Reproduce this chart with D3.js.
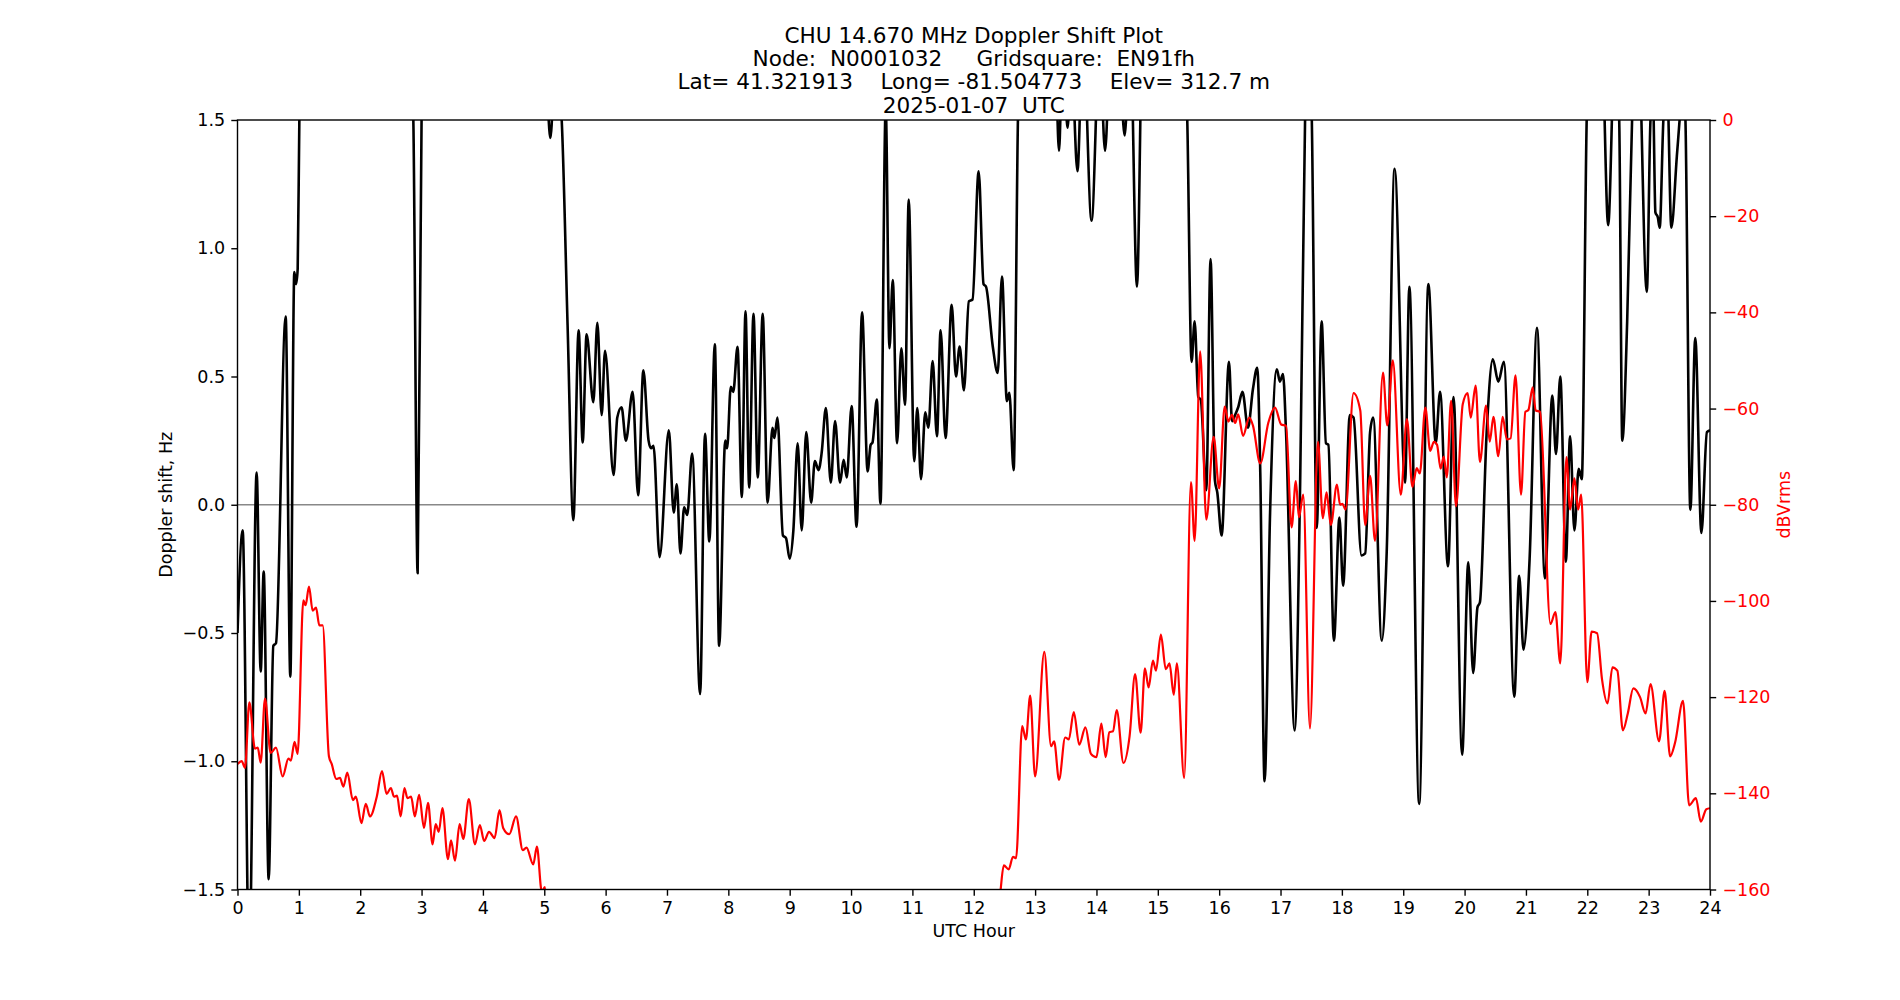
<!DOCTYPE html>
<html>
<head>
<meta charset="utf-8">
<script src="https://cdn.jsdelivr.net/npm/d3@7"></script>
<style>
body { margin: 0; background: #fff; }
text { font-family: "DejaVu Sans", sans-serif; }
</style>
</head>
<body>
<script>
var width = 1900;
var height = 1000;
var margin = {top: 120, right: 190, bottom: 110.5, left: 237.5};
var plotW = width - margin.left - margin.right;
var plotH = height - margin.top - margin.bottom;

var titleLines = [
    'CHU 14.670 MHz Doppler Shift Plot',
    'Node:  N0001032     Gridsquare:  EN91fh',
    'Lat= 41.321913    Long= -81.504773    Elev= 312.7 m',
    '2025-01-07  UTC'
];

var hourTicks = [0, 1, 2, 3, 4, 5, 6, 7, 8, 9, 10, 11, 12, 13, 14, 15, 16, 17, 18, 19, 20, 21, 22, 23, 24];
var shiftTicks = [-1.5, -1.0, -0.5, 0.0, 0.5, 1.0, 1.5];
var powerTicks = [0, -20, -40, -60, -80, -100, -120, -140, -160];

// [UTC hour, Doppler shift Hz]  (values past +-1.5 run off the plot)
var dopplerShift = [
    [0.00,-0.50],[0.084,-0.10],[0.19,-1.80],[0.312,0.126],[0.378,-0.65],[0.427,-0.26],[0.508,-1.46],
    [0.584,-0.55],[0.627,-0.54],[0.785,0.734],[0.861,-0.67],[0.926,0.907],[0.955,0.86],[0.981,0.92],
    [1.008,1.50],[1.06,1.90],[1.60,2.20],[2.30,2.20],[2.80,1.90],[2.866,1.50],[2.936,-0.267],[3.00,1.50],
    [3.06,1.90],[4.00,2.20],[5.03,1.65],[5.10,1.43],[5.18,1.75],[5.284,1.50],[5.38,0.70],[5.474,-0.06],
    [5.56,0.68],[5.626,0.243],[5.69,0.665],[5.80,0.40],[5.865,0.709],[5.936,0.35],[5.99,0.60],[6.13,0.116],
    [6.19,0.34],[6.26,0.38],[6.33,0.25],[6.44,0.44],[6.53,0.037],[6.615,0.524],[6.70,0.25],[6.74,0.22],
    [6.78,0.23],[6.88,-0.204],[7.03,0.29],[7.11,-0.03],[7.16,0.08],[7.22,-0.19],[7.28,-0.01],[7.33,-0.04],
    [7.41,0.20],[7.54,-0.738],[7.62,0.277],[7.69,-0.143],[7.78,0.626],[7.85,-0.55],[7.95,0.25],[7.98,0.22],
    [8.04,0.46],[8.08,0.44],[8.15,0.616],[8.22,0.03],[8.28,0.754],[8.34,0.067],[8.41,0.744],[8.48,0.106],
    [8.56,0.744],[8.64,0.008],[8.72,0.30],[8.75,0.26],[8.80,0.34],[8.89,-0.12],[8.94,-0.13],[9.00,-0.21],
    [9.06,-0.10],[9.13,0.24],[9.196,-0.10],[9.27,0.283],[9.35,0.008],[9.41,0.17],[9.47,0.135],[9.52,0.20],
    [9.59,0.377],[9.67,0.086],[9.74,0.326],[9.82,0.086],[9.88,0.175],[9.93,0.106],[10.01,0.385],[10.09,-0.086],
    [10.18,0.75],[10.27,0.13],[10.32,0.234],[10.35,0.243],[10.42,0.41],[10.48,0.004],[10.565,1.55],[10.626,0.61],
    [10.68,0.876],[10.75,0.24],[10.82,0.61],[10.88,0.39],[10.94,1.19],[11.03,0.17],[11.08,0.377],[11.14,0.10],
    [11.21,0.36],[11.26,0.30],[11.33,0.56],[11.40,0.267],[11.46,0.68],[11.54,0.26],[11.64,0.78],[11.71,0.50],
    [11.77,0.617],[11.84,0.446],[11.92,0.793],[11.98,0.80],[12.08,1.30],[12.16,0.86],[12.20,0.85],[12.31,0.617],
    [12.39,0.514],[12.46,0.89],[12.54,0.404],[12.58,0.436],[12.65,0.135],[12.72,1.50],[12.78,1.95],[13.20,2.10],
    [13.34,1.70],[13.39,1.38],[13.44,1.70],[13.49,1.60],[13.53,1.47],[13.59,1.75],[13.69,1.30],[13.78,1.85],
    [13.92,1.107],[14.05,1.80],[14.14,1.38],[14.23,1.80],[14.38,1.70],[14.46,1.44],[14.55,1.85],[14.66,0.85],
    [14.76,2.00],[15.20,2.20],[15.42,1.90],[15.48,1.50],[15.55,0.557],[15.60,0.715],[15.66,0.42],[15.70,0.41],
    [15.79,0.057],[15.86,0.958],[15.93,0.096],[15.97,0.047],[16.04,-0.12],[16.16,0.557],[16.21,0.326],[16.26,0.35],
    [16.31,0.38],[16.38,0.44],[16.47,0.30],[16.55,0.45],[16.62,0.534],[16.67,0.126],[16.74,-1.078],[16.83,-0.03],
    [16.94,0.528],[16.99,0.48],[17.04,0.51],[17.09,0.283],[17.23,-0.88],[17.32,0.086],[17.40,1.50],[17.45,1.90],
    [17.51,1.50],[17.59,-0.09],[17.67,0.715],[17.74,0.24],[17.78,0.234],[17.87,-0.53],[17.96,-0.05],[18.02,-0.316],
    [18.13,0.35],[18.19,0.34],[18.32,-0.198],[18.38,-0.19],[18.46,0.283],[18.51,0.34],[18.65,-0.53],[18.73,-0.19],
    [18.86,1.31],[19.03,0.086],[19.10,0.85],[19.26,-1.166],[19.41,0.86],[19.53,0.24],[19.60,0.44],[19.73,-0.24],
    [19.82,0.42],[19.96,-0.974],[20.06,-0.224],[20.14,-0.656],[20.21,-0.40],[20.25,-0.38],[20.36,0.283],[20.46,0.567],
    [20.55,0.48],[20.64,0.557],[20.81,-0.748],[20.89,-0.277],[20.96,-0.565],[21.06,-0.21],[21.18,0.69],[21.31,-0.287],
    [21.43,0.426],[21.49,0.198],[21.56,0.50],[21.65,-0.222],[21.72,0.267],[21.79,-0.10],[21.86,0.14],[21.91,0.10],
    [21.99,1.50],[22.06,1.95],[22.24,1.80],[22.34,1.09],[22.45,1.80],[22.52,1.50],[22.57,0.25],[22.65,0.715],
    [22.73,1.50],[22.82,1.90],[22.97,0.83],[23.03,1.50],[23.07,1.60],[23.11,1.14],[23.15,1.12],[23.18,1.08],
    [23.24,1.50],[23.30,1.65],[23.37,1.08],[23.46,1.36],[23.52,1.55],[23.56,1.70],[23.60,1.50],[23.68,-0.02],
    [23.76,0.65],[23.86,-0.11],[23.95,0.283],[24.00,0.29]
];

// [UTC hour, signal level dBVrms]  (values under -160 run off the plot)
var signalPower = [
    [0.00,-133.9],[0.068,-133.3],[0.122,-134.7],[0.193,-121.1],[0.285,-130.7],[0.33,-130.5],[0.378,-133.6],
    [0.448,-120.3],[0.54,-131.6],[0.627,-130.5],[0.736,-136.5],[0.83,-132.8],[0.87,-133.2],[0.93,-129.3],
    [0.98,-131.8],[1.073,-99.9],[1.11,-100.9],[1.165,-97.0],[1.225,-102],[1.28,-101.4],[1.334,-105.1],
    [1.388,-105.1],[1.49,-132.3],[1.535,-133.9],[1.61,-137],[1.67,-136.8],[1.725,-138.6],[1.79,-135.7],
    [1.88,-141.4],[1.93,-140.7],[2.02,-146.2],[2.09,-142.2],[2.16,-144.8],[2.27,-140.7],[2.355,-135.4],
    [2.43,-140.1],[2.50,-138.9],[2.55,-140.7],[2.60,-140.5],[2.66,-144.8],[2.72,-138.9],[2.77,-141],
    [2.83,-140.7],[2.89,-144.8],[2.96,-140.3],[3.04,-147.2],[3.105,-142],[3.18,-150.6],[3.23,-146.4],
    [3.28,-148],[3.34,-143.1],[3.43,-153.7],[3.48,-149.8],[3.545,-154],[3.62,-146.4],[3.68,-149.5],
    [3.77,-141.2],[3.87,-150.6],[3.95,-146.6],[4.02,-149.9],[4.10,-148],[4.19,-149.3],[4.27,-143.5],
    [4.33,-147.2],[4.43,-148.5],[4.54,-144.8],[4.65,-151.8],[4.71,-151.3],[4.82,-154.8],[4.88,-151.1],
    [4.96,-160.5],[5.01,-159.5],[5.06,-168],[6.00,-175],[11.50,-175],[12.35,-170],[12.43,-161],
    [12.49,-155],[12.57,-155.8],[12.64,-153.2],[12.69,-153.5],[12.79,-126],[12.85,-128.8],[12.92,-119.7],
    [13.00,-136.5],[13.15,-110.6],[13.26,-130.2],[13.31,-129.2],[13.39,-137.2],[13.49,-128.4],[13.55,-128.8],
    [13.63,-123.1],[13.72,-129.9],[13.82,-126.3],[13.91,-131.8],[14.00,-132.5],[14.08,-125.5],[14.15,-132.5],
    [14.21,-127.3],[14.27,-127.1],[14.33,-122.7],[14.44,-133.7],[14.54,-128.1],[14.63,-115.2],[14.72,-127.4],
    [14.79,-114],[14.85,-118],[14.92,-112.4],[14.97,-114.5],[15.05,-107],[15.13,-114.2],[15.19,-113],
    [15.26,-119.5],[15.31,-113],[15.43,-136.8],[15.54,-75.3],[15.60,-87.5],[15.69,-48.1],[15.79,-83.1],
    [15.91,-65.9],[16.00,-76.6],[16.09,-59.6],[16.15,-62.7],[16.21,-61.3],[16.26,-63],[16.31,-61.2],
    [16.39,-65.7],[16.49,-61.9],[16.55,-63.5],[16.67,-71.4],[16.80,-63],[16.91,-59.8],[17.01,-63.3],
    [17.09,-63.6],[17.18,-84.7],[17.25,-75.1],[17.30,-82.6],[17.37,-77.9],[17.48,-126.5],[17.61,-66.9],
    [17.69,-82.8],[17.75,-77.4],[17.82,-84.2],[17.92,-75.8],[17.97,-80],[18.01,-79.8],[18.06,-81],
    [18.19,-56.8],[18.30,-60.4],[18.38,-84.2],[18.46,-74],[18.54,-87.5],[18.67,-52.5],[18.74,-63.5],
    [18.83,-50],[18.96,-77.9],[19.06,-62.2],[19.15,-76.3],[19.22,-72.4],[19.27,-73.5],[19.36,-59.8],
    [19.44,-68.8],[19.50,-66.9],[19.55,-67.5],[19.61,-72.5],[19.66,-70],[19.71,-74.3],[19.78,-58.4],
    [19.86,-80.3],[19.97,-59.1],[20.05,-56.8],[20.10,-61.9],[20.18,-55.2],[20.25,-71.1],[20.35,-59.4],
    [20.41,-66.9],[20.47,-61.7],[20.55,-69.9],[20.62,-61.7],[20.69,-66.4],[20.75,-66.2],[20.83,-53.1],
    [20.92,-77.9],[20.99,-60.7],[21.04,-60.3],[21.11,-55.6],[21.16,-60.4],[21.23,-60.7],[21.40,-104.8],
    [21.48,-102.3],[21.56,-113],[21.66,-70.1],[21.72,-81],[21.79,-74.5],[21.85,-81],[21.90,-77.9],
    [22.00,-116.9],[22.07,-106.4],[22.16,-106.7],[22.24,-116.3],[22.33,-121.3],[22.41,-113.8],[22.49,-114.5],
    [22.58,-126.9],[22.66,-123.4],[22.75,-118.2],[22.86,-120],[22.95,-123.4],[23.03,-117.3],[23.17,-129.2],
    [23.26,-118.7],[23.35,-132.3],[23.43,-129.5],[23.56,-120.8],[23.66,-142.5],[23.77,-141],[23.85,-145.9],
    [23.94,-143.3],[24.00,-143.1]
];

var x = d3.scaleLinear().domain([0, 24]).range([0, plotW]);
var yShift = d3.scaleLinear().domain([-1.5, 1.5]).range([plotH, 0]);
var yPower = d3.scaleLinear().domain([-160, 0]).range([plotH, 0]);

var svg = d3.select('body')
    .append('svg')
    .attr('width', width)
    .attr('height', height);

var g = svg.append('g')
    .attr('transform', `translate(${margin.left}, ${margin.top})`);

g.append('clipPath')
    .attr('id', 'plot-clip')
    .append('rect')
    .attr('width', plotW)
    .attr('height', plotH);

// zero line
g.append('line')
    .attr('x1', 0)
    .attr('x2', plotW)
    .attr('y1', yShift(0))
    .attr('y2', yShift(0))
    .attr('stroke', '#888')
    .attr('stroke-width', 1.4);

var shiftLine = d3.line()
    .x(function(d) { return x(d[0]); })
    .y(function(d) { return yShift(d[1]); })
    .curve(d3.curveMonotoneX);

var powerLine = d3.line()
    .x(function(d) { return x(d[0]); })
    .y(function(d) { return yPower(d[1]); })
    .curve(d3.curveMonotoneX);

g.append('path')
    .datum(dopplerShift)
    .attr('clip-path', 'url(#plot-clip)')
    .attr('fill', 'none')
    .attr('stroke', 'black')
    .attr('stroke-width', 2.6)
    .attr('stroke-linejoin', 'round')
    .attr('d', shiftLine);

g.append('path')
    .datum(signalPower)
    .attr('clip-path', 'url(#plot-clip)')
    .attr('fill', 'none')
    .attr('stroke', 'red')
    .attr('stroke-width', 2.2)
    .attr('stroke-linejoin', 'round')
    .attr('d', powerLine);

function styleAxis(sel, color) {
    sel.select('.domain').remove();
    sel.selectAll('.tick line').attr('stroke', 'black').attr('stroke-width', 1.4);
    sel.selectAll('.tick text')
        .attr('fill', color)
        .style('font-size', '17.5px')
        .style('font-family', '"DejaVu Sans", sans-serif');
}

g.append('g')
    .attr('transform', `translate(0, ${plotH})`)
    .call(d3.axisBottom(x).tickValues(hourTicks).tickFormat(d3.format('d')).tickSize(6.2).tickPadding(6.2))
    .call(styleAxis, 'black');

g.append('g')
    .call(d3.axisLeft(yShift).tickValues(shiftTicks).tickFormat(d3.format('.1f')).tickSize(6.2).tickPadding(6.2))
    .call(styleAxis, 'black');

g.append('g')
    .attr('transform', `translate(${plotW}, 0)`)
    .call(d3.axisRight(yPower).tickValues(powerTicks).tickFormat(d3.format('d')).tickSize(6.2).tickPadding(6.2))
    .call(styleAxis, 'red');

// spines
g.append('rect')
    .attr('width', plotW)
    .attr('height', plotH)
    .attr('fill', 'none')
    .attr('stroke', 'black')
    .attr('stroke-width', 1.4);

// labels
svg.append('text')
    .attr('x', margin.left + plotW / 2)
    .attr('y', 937)
    .attr('text-anchor', 'middle')
    .style('font-size', '17.5px')
    .text('UTC Hour');

svg.append('text')
    .attr('transform', `translate(171.5, ${margin.top + plotH / 2}) rotate(-90)`)
    .attr('text-anchor', 'middle')
    .style('font-size', '17.5px')
    .text('Doppler shift, Hz');

svg.append('text')
    .attr('transform', `translate(1790, ${margin.top + plotH / 2}) rotate(-90)`)
    .attr('text-anchor', 'middle')
    .attr('fill', 'red')
    .style('font-size', '17.5px')
    .text('dBVrms');

svg.append('g')
    .selectAll('text')
    .data(titleLines)
    .enter()
        .append('text')
        .attr('x', margin.left + plotW / 2)
        .attr('y', function(d, i) { return 43 + i * 23.2; })
        .attr('text-anchor', 'middle')
        .style('font-size', '21.6px')
        .style('white-space', 'pre')
        .text(function(d) { return d; });
</script>
</body>
</html>
